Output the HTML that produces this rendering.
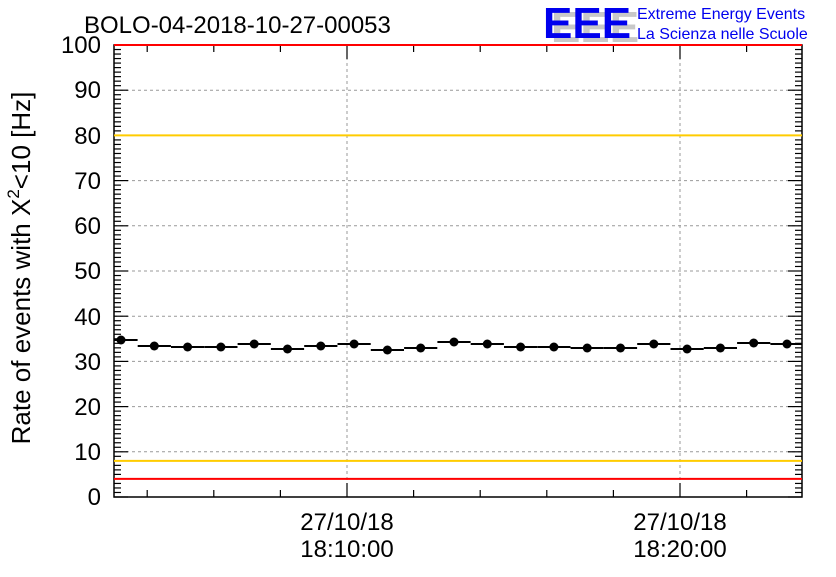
<!DOCTYPE html>
<html><head><meta charset="utf-8"><style>
body{margin:0;background:#fff}
text{font-family:"Liberation Sans",Arial,sans-serif}
</style></head><body>
<svg id="s" width="836" height="572" xmlns="http://www.w3.org/2000/svg">
<rect width="836" height="572" fill="#fff"/>
<g id="grid" stroke="#999" stroke-dasharray="3,3" stroke-width="1"></g>
<g id="ticks" stroke="#000" stroke-width="1.2"></g>
<rect x="114" y="45" width="688" height="452" fill="none" stroke="#000" stroke-width="1.5"/>
<g id="lines"></g>
<g id="data"></g>
<g font-size="24" text-anchor="end" fill="#000">
<text x="101" y="505">0</text><text x="101" y="460">10</text><text x="101" y="415">20</text><text x="101" y="370">30</text><text x="101" y="325">40</text><text x="101" y="279">50</text><text x="101" y="234">60</text><text x="101" y="189">70</text><text x="101" y="144">80</text><text x="101" y="98">90</text><text x="101" y="53">100</text>
</g>
<g font-size="24" text-anchor="middle">
<text x="347" y="530">27/10/18</text><text x="347" y="557">18:10:00</text>
<text x="680" y="530">27/10/18</text><text x="680" y="557">18:20:00</text>
</g>
<text transform="translate(30,268) rotate(-90)" font-size="26" text-anchor="middle">Rate of events with X<tspan font-size="17" dy="-11">2</tspan><tspan dy="11">&lt;10 [Hz]</tspan></text>
<text x="84" y="33" font-size="24">BOLO-04-2018-10-27-00053</text>
<g font-size="44" font-weight="bold" font-family="Liberation Sans">
<text x="551" y="42" fill="#c8c8c8">EEE</text>
<text x="543" y="38" fill="#0000ee">EEE</text>
</g>
<text x="637" y="19" font-size="16" fill="#0000ee">Extreme Energy Events</text>
<text x="637" y="39" font-size="16" fill="#0000ee">La Scienza nelle Scuole</text>
</svg>
<script>
var NS="http://www.w3.org/2000/svg";
function el(p,t,a){var e=document.createElementNS(NS,t);for(var k in a)e.setAttribute(k,a[k]);document.getElementById(p).appendChild(e);return e;}
var L=114,R=802,T=45,B=497;function Y(v){return B-v*4.52;}
for(var v=10;v<100;v+=10)el("grid","line",{x1:L,x2:R,y1:Y(v),y2:Y(v)});
[347,680].forEach(function(x){el("grid","line",{x1:x,x2:x,y1:T,y2:B});});
el("lines","line",{x1:L,x2:R,y1:Y(80),y2:Y(80),stroke:"#ffcc00","stroke-width":2});
el("lines","line",{x1:L,x2:R,y1:Y(8),y2:Y(8),stroke:"#ffcc00","stroke-width":2});
el("lines","line",{x1:L,x2:R,y1:Y(4),y2:Y(4),stroke:"#ff0000","stroke-width":2});
el("lines","line",{x1:L,x2:R,y1:T,y2:T,stroke:"#ff0000","stroke-width":2});
for(var v=0;v<=100;v++){var len=(v%10==0)?14:7;
el("ticks","line",{x1:L,x2:L+len,y1:Y(v),y2:Y(v)});
el("ticks","line",{x1:R,x2:R-len,y1:Y(v),y2:Y(v)});}
for(var i=-5;i<12;i++){var x=347+i*66.6;if(x<L||x>R)continue;var len=(i%5==0)?14:7;
el("ticks","line",{x1:x,x2:x,y1:B,y2:B-len});el("ticks","line",{x1:x,x2:x,y1:T,y2:T+len});}
var ys=[340,346,347,347,344,349,346,344,350,348,342,344,347,347,348,348,344,349,348,343,344];
var w=33.2;
for(var i=0;i<ys.length;i++){var cx=121+i*33.3;var x1=Math.max(L,cx-w/2),x2=Math.min(R,cx+w/2);
el("data","line",{x1:x1,x2:x2,y1:ys[i],y2:ys[i],stroke:"#000","stroke-width":2});
el("data","circle",{cx:cx,cy:ys[i],r:4.5,fill:"#000"});}
</script>
</body></html>
